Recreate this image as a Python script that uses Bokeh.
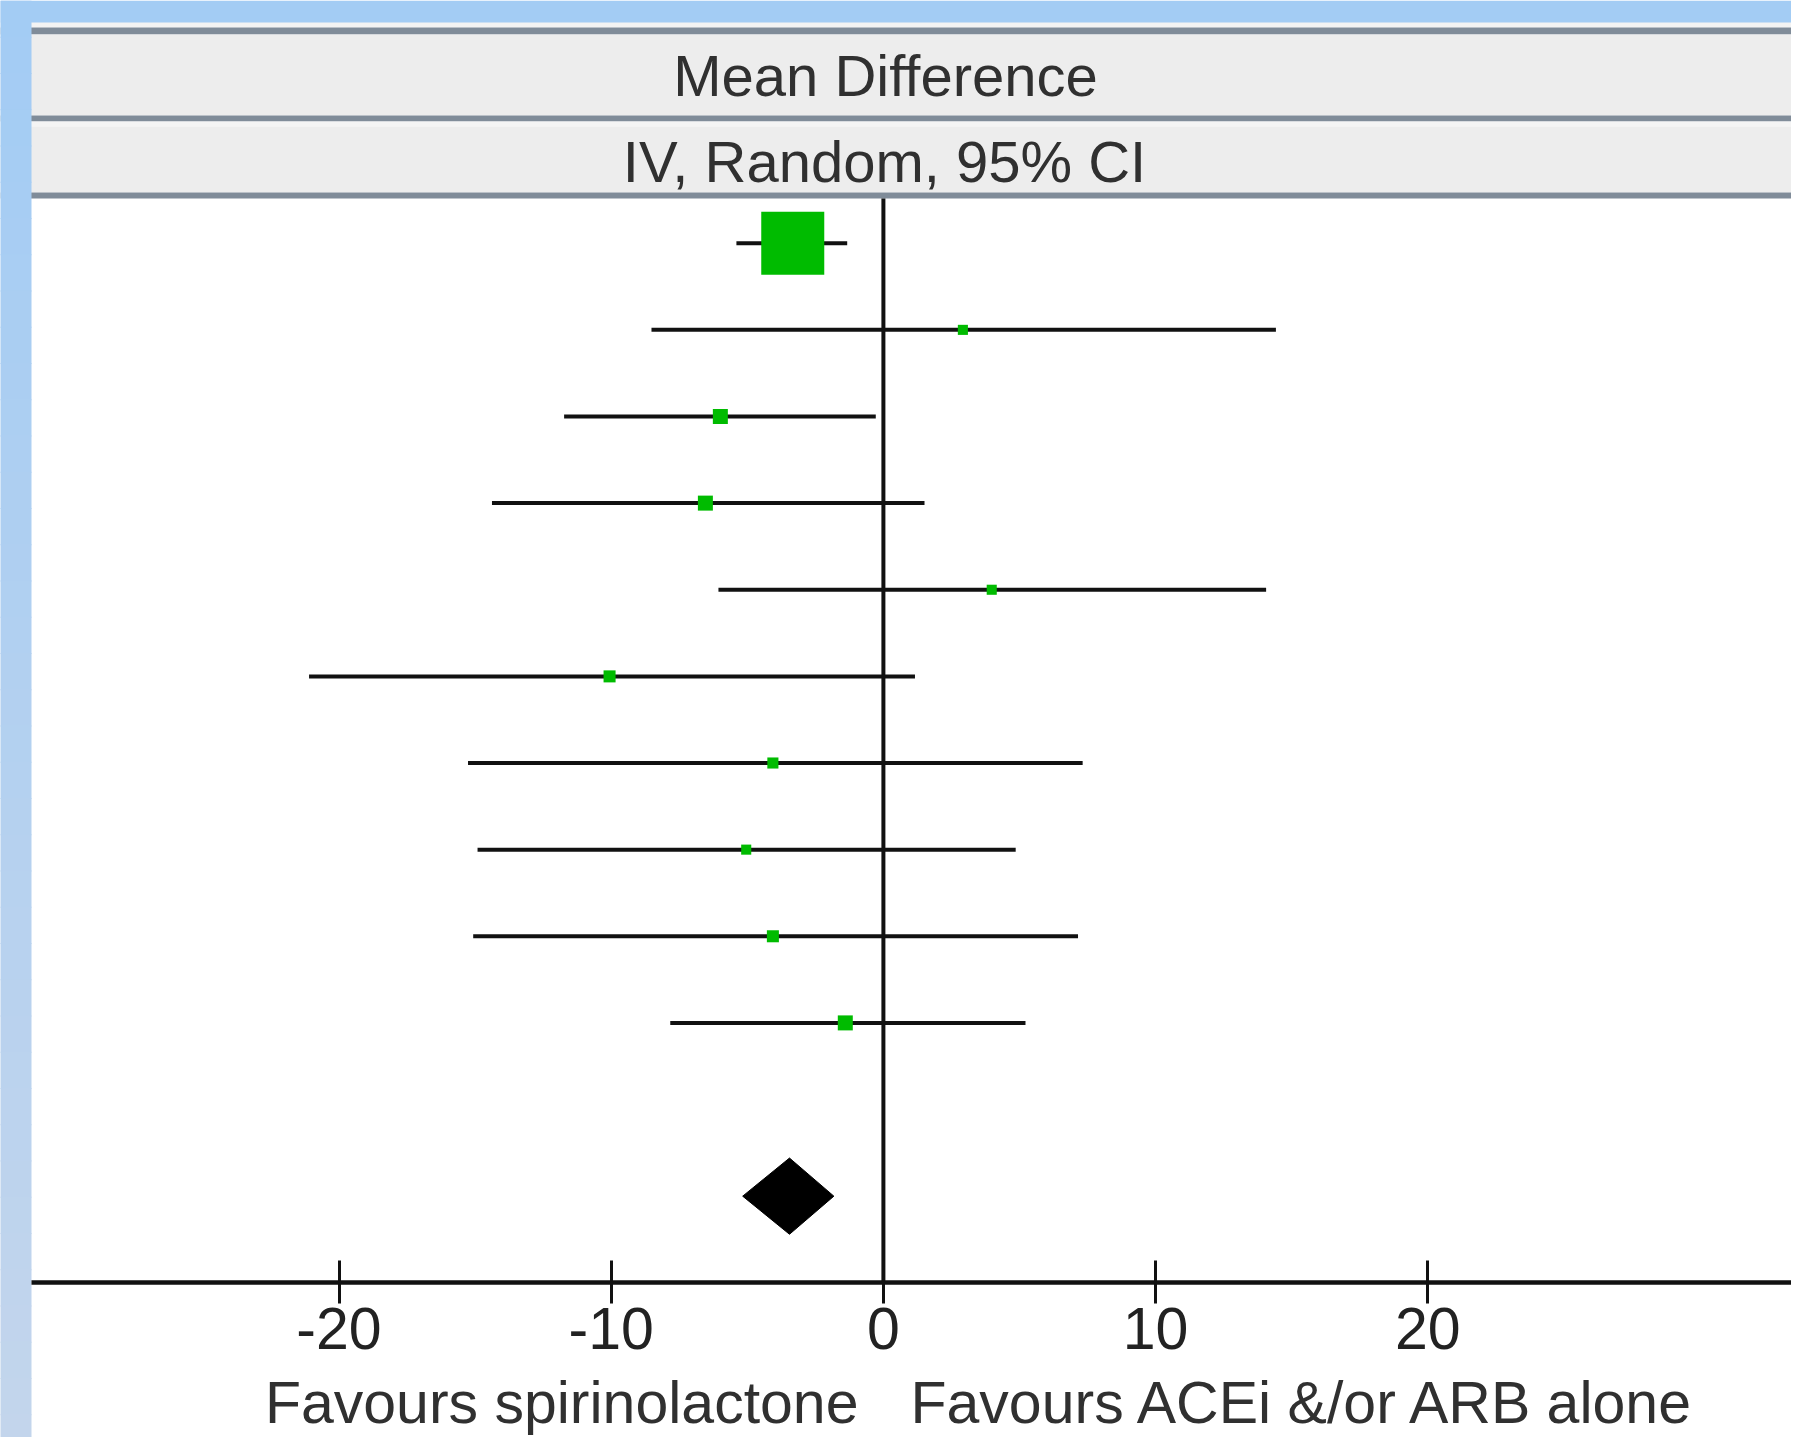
from bokeh.plotting import figure
from bokeh.models import Range1d, LinearAxis, FixedTicker, Label, ColumnDataSource
from bokeh.embed import file_html
from bokeh.resources import INLINE

# ---------------- data ----------------
study_row = [1, 2, 3, 4, 5, 6, 7, 8, 9, 10]
md_mean = [-3.33, 2.92, -5.99, -6.54, 3.98, -10.06, -4.06, -5.04, -4.06, -1.40]
md_low = [-5.40, -8.52, -11.73, -14.38, -6.06, -21.10, -15.26, -14.91, -15.07, -7.83]
md_high = [-1.33, 14.42, -0.28, 1.51, 14.06, 1.16, 7.32, 4.86, 7.15, 5.22]
weight_pct = [74.1, 1.9, 4.2, 4.2, 1.9, 2.7, 2.3, 1.9, 2.7, 4.2]

pooled_row = 12
pooled_mean = -3.45
pooled_low = -5.17
pooled_high = -1.82

tick_values = [-20, -10, 0, 10, 20]
tick_labels = ["-20", "-10", "0", "10", "20"]
header_1 = "Mean Difference"
header_2 = "IV, Random, 95% CI"
favours_left = "Favours spirinolactone"
favours_right = "Favours ACEi &/or ARB alone"

# ---------------- geometry ----------------
W, H = 1791, 1437
X0, SX = 882.9, 27.22      # pixel x of 0, px per unit
Y0, SY = 156.1, 86.63      # pixel y of row 0, px per row
LABEL_SHIFT = 22           # svg label baseline correction


def px_x(X):
    return (X - X0) / SX


def px_y(Y):
    return (Y - Y0) / SY


x_start, x_end = px_x(0), px_x(W)
y_top, y_bot = px_y(0), px_y(H)

p = figure(width=W, height=H, output_backend="svg", toolbar_location=None,
           x_range=Range1d(x_start, x_end), y_range=Range1d(y_bot, y_top),
           x_axis_type=None, y_axis_type=None, min_border=0,
           min_border_left=0, min_border_right=0, min_border_top=0, min_border_bottom=0)
p.outline_line_color = None
p.grid.visible = False
p.background_fill_color = "white"
p.border_fill_color = "white"

FONT = "Liberation Sans"

# ---------------- background panels ----------------
def band(X1, X2, Y1, Y2, color):
    p.quad(left=[px_x(X1)], right=[px_x(X2)], top=[px_y(Y1)], bottom=[px_y(Y2)],
           fill_color=color, line_color=None)

band(0, 1810, 21, 27, "#F3F3F3")
band(0, 1810, 27, 34, "#808C99")
band(0, 1810, 34, 115, "#EDEDED")
band(0, 1810, 115, 121, "#808C99")
band(0, 1810, 121, 126, "#F4F4F4")
band(0, 1810, 126, 192, "#EDEDED")
band(0, 1810, 192, 198, "#808C99")
band(0, 1810, 0, 22, "#A3CCF4")

# left blue strip with a soft vertical gradient
top_rgb = (163, 204, 244)
bot_rgb = (195, 213, 236)
n_steps = 40
lefts, rights, tops, bottoms, cols = [], [], [], [], []
for i in range(n_steps):
    t = i / (n_steps - 1)
    r = int(round(top_rgb[0] + (bot_rgb[0] - top_rgb[0]) * t))
    g = int(round(top_rgb[1] + (bot_rgb[1] - top_rgb[1]) * t))
    b = int(round(top_rgb[2] + (bot_rgb[2] - top_rgb[2]) * t))
    Ya = 1450 * i / n_steps
    Yb = 1450 * (i + 1) / n_steps + 1
    lefts.append(px_x(-2))
    rights.append(px_x(31))
    tops.append(px_y(Ya))
    bottoms.append(px_y(Yb))
    cols.append("#%02x%02x%02x" % (r, g, b))
p.quad(left=lefts, right=rights, top=tops, bottom=bottoms, fill_color=cols, line_color=None)

# ---------------- zero line ----------------
axis_row = 13
p.segment(x0=[0], y0=[px_y(198)], x1=[0], y1=[axis_row], line_color="#111111", line_width=4)

# ---------------- study CIs and boxes ----------------
sizes = [7.32 * (w ** 0.5) for w in weight_pct]
src = ColumnDataSource(dict(row=study_row, mean=md_mean, low=md_low, high=md_high, size=sizes))
p.segment(x0="low", y0="row", x1="high", y1="row", source=src, line_color="#111111", line_width=4)
p.scatter(x="mean", y="row", size="size", marker="square", source=src,
          fill_color="#00BB00", line_color=None)

# ---------------- pooled diamond ----------------
half_h = 0.44
p.patch(x=[pooled_low, pooled_mean, pooled_high, pooled_mean],
        y=[pooled_row, pooled_row - half_h, pooled_row, pooled_row + half_h],
        fill_color="black", line_color="black", line_width=1)

# ---------------- axis ----------------
xaxis = LinearAxis(fixed_location=axis_row, ticker=FixedTicker(ticks=tick_values),
                   major_label_overrides={v: s for v, s in zip(tick_values, tick_labels)},
                   bounds=(px_x(31), x_end + 5),
                   axis_line_color="#111111", axis_line_width=4.5,
                   major_tick_in=22, major_tick_out=21,
                   major_tick_line_color="#111111", major_tick_line_width=3,
                   minor_tick_line_color=None,
                   major_label_text_font=FONT, major_label_text_font_size="59px",
                   major_label_text_color="#222222", major_label_standoff=4)
p.add_layout(xaxis, "below")

# ---------------- texts ----------------
def label(X, Y_baseline, text, align, size):
    p.add_layout(Label(x=px_x(X), y=px_y(Y_baseline - LABEL_SHIFT), text=text,
                       text_align=align, text_baseline="alphabetic", text_font=FONT,
                       text_font_size=size, text_color="#303030"))

label(885, 97, header_1, "center", "58px")
label(884, 183, header_2, "center", "58px")
label(858, 1424, favours_left, "right", "59px")
label(910, 1424, favours_right, "left", "59px")

open("out.html", "w").write(file_html(p, INLINE))
